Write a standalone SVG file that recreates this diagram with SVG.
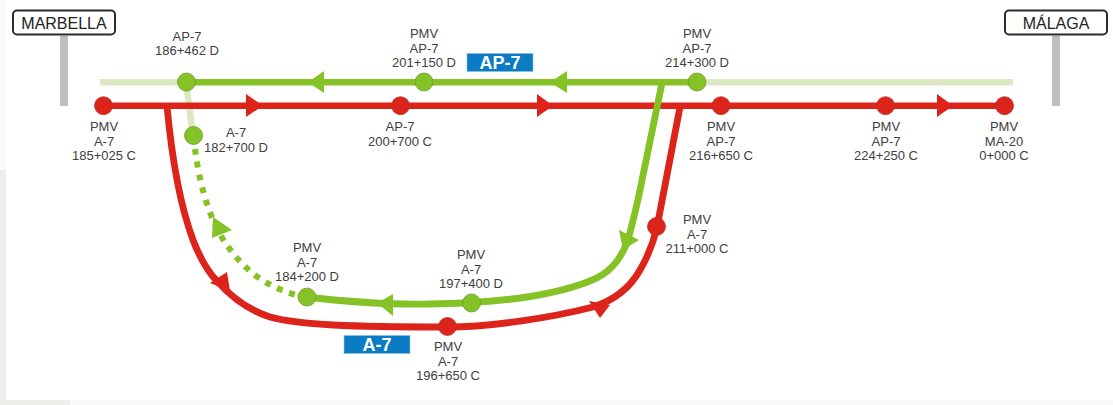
<svg xmlns="http://www.w3.org/2000/svg" width="1113" height="405" viewBox="0 0 1113 405">
<style>
text{font-family:"Liberation Sans",Arial,sans-serif;font-size:13px;fill:#404040;text-anchor:middle}
.city{font-size:16px;fill:#222}
.tag{font-size:18px;font-weight:bold;fill:#fff}
.r,.g,.gl{fill:none;stroke-linejoin:round}
.r{stroke:#dd241b;stroke-width:6.8}
.g{stroke:#84c225;stroke-width:6.8}
.st{stroke-width:6.5}
.gl{stroke:#dbe8c1;stroke-width:6.5}
.gd{fill:none;stroke:#84c225;stroke-width:6;stroke-dasharray:6 7}
.rn{fill:#dd241b;stroke:#b8352b;stroke-width:.8}
.gn{fill:#84c225;stroke:#6d9a34;stroke-width:.8}
.ra{fill:#dd241b}.ga{fill:#84c225}
.sign{fill:#fff;stroke:#2b2b2b;stroke-width:2}
.post{fill:#bdbdbd;stroke:#a8a8a8;stroke-width:.6}
.blue{fill:#0a7cc3;stroke:#8fbcd8;stroke-width:.6}
.bg1{fill:#eeeeea}.bg2{fill:#fafafa}
</style>
<rect width="1113" height="405" fill="#fff"/>
<rect class="bg2" x="0" y="0" width="6" height="170"/>
<rect class="bg1" x="0" y="170" width="6" height="235"/>
<rect class="bg1" x="0" y="400" width="70" height="5"/>
<rect class="bg2" x="70" y="400" width="1043" height="5"/>
<g id="connectors">
<path class="gl" d="M100 82.300H186M186 82.300L193 136M697 82.300H1013"/>
<path class="g st" d="M186 82.300H697"/>
<path class="r st" d="M103 105.700H1005"/>
<path class="r" d="M167 106C172 160 180 205 193 240C200 258 208 272 217 281C232 298 248 310 270 317C300 325 350 327 447 327C490 327 550 318 593 307C615 300 630 288 640 270C650 253 654 240 657 227L680 107"/>
<path class="g" d="M662 83L640 190C636 210 632 225 628 240C620 262 608 274 590 281C560 293 510 303 430 304C390 305 350 302 307 297"/>
<path class="gd" d="M195 149C199 180 208 220 229 248C245 270 265 286 296 295"/>
<polygon class="ga" points="308,82.300 324,71 324,93"/>
<polygon class="ga" points="550,82.300 567,71 567,93"/>
<polygon class="ra" points="246,94 246,117 263,105.700"/>
<polygon class="ra" points="537,94 537,117 553,105.700"/>
<polygon class="ra" points="937,94 937,117 953,105.700"/>
<polygon class="ra" points="210,283 227,272 230,291"/>
<polygon class="ra" points="589,301 610,305 600,318"/>
<polygon class="ga" points="619,230 639,240 623,250"/>
<polygon class="ga" points="213,217 232,230 212,238"/>
<polygon class="ga" points="377,303 393,294 393,316"/>
</g>
<g id="marbella"><rect class="post" x="60.500" y="36" width="7" height="69.500"/><rect class="sign" x="13" y="10.500" width="102" height="24" rx="4"/><text class="city" x="64" y="28.500">MARBELLA</text></g>
<g id="malaga"><rect class="post" x="1052.500" y="36" width="7" height="69.500"/><rect class="sign" x="1005" y="10.500" width="102" height="24" rx="4"/><text class="city" x="1056" y="28.500">MÁLAGA</text></g>
<g id="tag-ap7"><rect class="blue" x="467" y="53.500" width="66" height="18"/><text class="tag" x="500" y="69">AP-7</text></g>
<g id="tag-a7"><rect class="blue" x="344" y="335.500" width="66" height="18"/><text class="tag" x="377" y="351">A-7</text></g>
<g id="n1"><circle class="rn" cx="103.500" cy="105.700" r="9"/><text x="104" y="131">PMV</text><text x="104" y="145.500">A-7</text><text x="104" y="160">185+025 C</text></g>
<g id="n2"><circle class="gn" cx="186.500" cy="82" r="9"/><text x="187" y="40.500">AP-7</text><text x="187" y="55">186+462 D</text></g>
<g id="n3"><circle class="gn" cx="193.500" cy="135.500" r="9"/><text x="236" y="137">A-7</text><text x="236" y="151.500">182+700 D</text></g>
<g id="n4"><circle class="rn" cx="400.500" cy="105.700" r="9"/><text x="400" y="131">AP-7</text><text x="400" y="145.500">200+700 C</text></g>
<g id="n5"><circle class="gn" cx="424" cy="82" r="9"/><text x="424" y="38">PMV</text><text x="424" y="52.500">AP-7</text><text x="424" y="67">201+150 D</text></g>
<g id="n6"><circle class="gn" cx="697" cy="82" r="9"/><text x="697" y="38">PMV</text><text x="697" y="52.500">AP-7</text><text x="697" y="67">214+300 D</text></g>
<g id="n7"><circle class="rn" cx="721" cy="105.700" r="9"/><text x="721" y="131">PMV</text><text x="721" y="145.500">AP-7</text><text x="721" y="160">216+650 C</text></g>
<g id="n8"><circle class="rn" cx="885.500" cy="105.700" r="9"/><text x="886" y="131">PMV</text><text x="886" y="145.500">AP-7</text><text x="886" y="160">224+250 C</text></g>
<g id="n9"><circle class="rn" cx="1004.500" cy="105.700" r="9"/><text x="1004" y="131">PMV</text><text x="1004" y="145.500">MA-20</text><text x="1004" y="160">0+000 C</text></g>
<g id="n10"><circle class="rn" cx="656.500" cy="226.500" r="9"/><text x="697" y="224">PMV</text><text x="697" y="238.500">A-7</text><text x="697" y="253">211+000 C</text></g>
<g id="n11"><circle class="gn" cx="471.500" cy="303" r="9"/><text x="471" y="259">PMV</text><text x="471" y="273.500">A-7</text><text x="471" y="288">197+400 D</text></g>
<g id="n12"><circle class="rn" cx="447.500" cy="326.500" r="9"/><text x="448" y="351">PMV</text><text x="448" y="365.500">A-7</text><text x="448" y="380">196+650 C</text></g>
<g id="n13"><circle class="gn" cx="307" cy="297" r="9"/><text x="307" y="252">PMV</text><text x="307" y="266.500">A-7</text><text x="307" y="281">184+200 D</text></g>
</svg>
